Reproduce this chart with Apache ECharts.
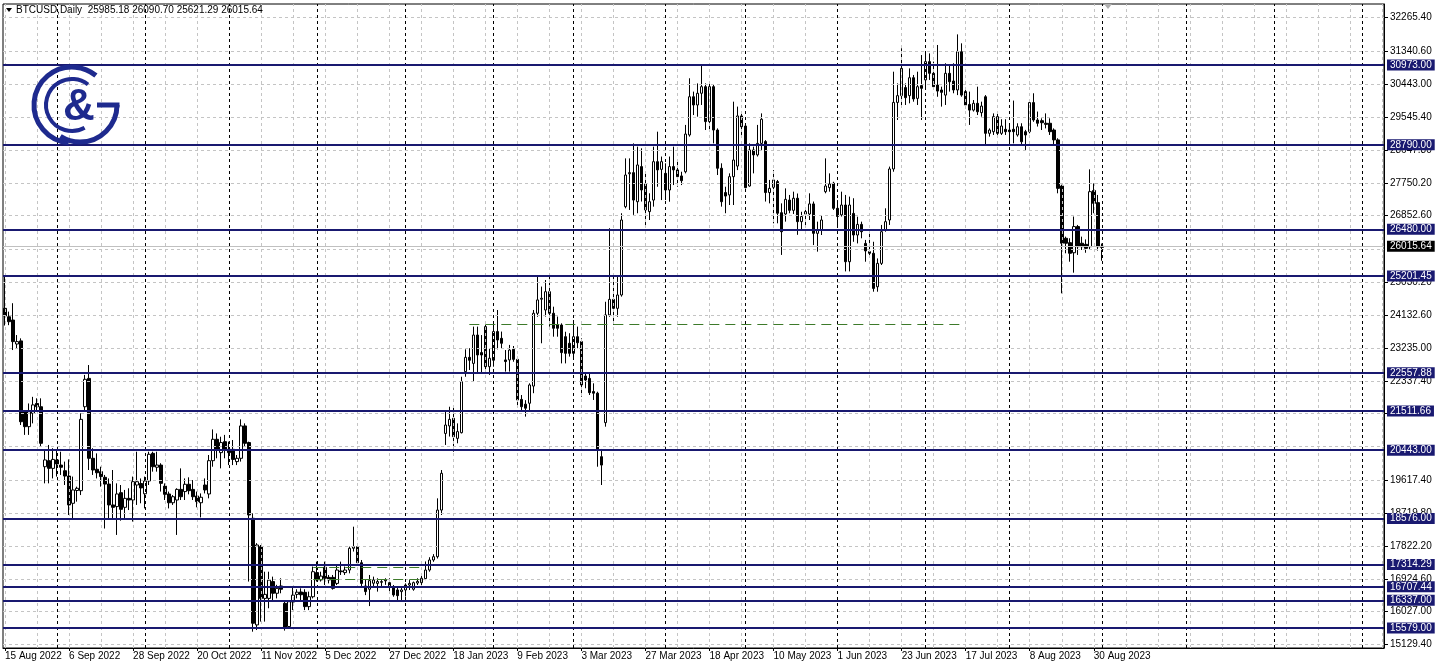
<!DOCTYPE html>
<html><head><meta charset="utf-8">
<script src="https://cdn.jsdelivr.net/npm/echarts@6/dist/echarts.min.js"></script>
<style>html,body{margin:0;padding:0;background:#fff}#c{width:1436px;height:668px}</style>
</head><body><div id="c"></div>
<script>
// ---- data (weekday daily bars starting 15 Aug 2022) ----
const opens = [24320,24090,24000,23345,23430,21495,21085,21450,21720,21630,19990,20155,19945,20175,20035,19880,19735,18990,19340,19335,
21630,22405,20220,19920,19855,19700,19515,18945,18900,19280,18880,19125,19080,19490,19530,19250,19600,20355,19975,20035,
19460,19245,19005,19080,19370,19310,19510,19370,19190,19005,19490,19245,20155,20740,20375,20675,20465,20465,20130,20220,
21105,20650,18580,15665,17805,16390,16390,16850,16530,16730,16255,15620,16290,16500,16565,16555,16165,16435,17095,16895,
17240,16965,16965,16800,17140,17095,17165,17760,17805,17365,16730,16640,16805,16800,16830,16870,16820,16690,16620,16575,
16620,16755,16640,16810,16820,16930,17165,17440,17530,18805,20900,21105,21315,20765,20920,22590,22980,22815,23590,23110,
23820,22725,22900,23685,23500,22910,22910,23200,22925,21830,21700,21725,22195,24185,24570,24275,24775,24185,23865,23865,
23545,23365,23090,23545,23410,22470,22405,22045,22000,20265,21195,24140,24565,24320,24685,27100,28000,28030,27235,28195,
27720,26965,27280,28330,28120,28010,27555,28195,28105,27940,28055,29060,30105,29880,30200,30380,29425,30380,29195,28150,
27485,27420,27920,28210,29580,29305,27665,28650,28515,28830,28880,27485,27630,27785,26935,26900,27280,27000,27330,26690,
26900,26900,27175,26370,26460,27510,27620,27740,27055,26875,27145,25595,26915,26325,26615,26095,25870,25825,24910,25550,
26460,26735,28130,29950,30135,30355,30135,30625,30060,30410,30565,31065,30745,30425,30290,30150,30745,30535,30290,31335,
30245,29895,29740,29925,29670,30105,29105,29150,29560,29105,29215,29195,29215,29060,29285,29150,29150,29945,29470,29450,
29380,29380,29195,28925,27665,26235,26115,25840,26555,26100,26070,26005,27540,27210,25985.18];
const highs = [25210,24230,24460,23590,23500,21540,21720,21900,21860,21860,20450,20585,20495,20450,20400,20130,20190,19720,19445,21450,
22500,22770,20495,20355,19990,19765,19670,19900,19535,19490,19355,19400,19720,20400,19670,19720,20400,20400,20400,20085,
19535,19310,19215,19400,19945,19670,19700,19625,19310,19260,19670,20310,21010,20900,20810,20860,20675,20720,20310,21285,
21175,20675,18715,17900,17850,17120,17120,16985,16760,16940,16300,16330,16710,16640,16665,16640,16575,17260,17395,17120,
17395,17030,17030,17305,17395,17260,17805,18350,17895,17440,16895,17030,16985,16940,16890,16940,16940,16755,16710,16710,
16800,16890,16850,16940,17030,17400,17515,17600,19125,19900,21495,21630,21630,21175,22450,23200,23230,23820,23820,23590,
23865,23230,23865,24275,23685,23180,23320,23290,22995,21950,21810,22270,24275,25230,24915,25095,25275,24365,24095,23910,
23680,23640,24000,23820,23500,22560,22545,22270,22040,20475,24500,26510,25185,25185,26920,28420,28420,28830,28740,28695,
28010,27465,28740,29150,28470,28285,28470,28740,28375,28055,29335,30610,30245,30470,30975,30470,30470,30430,29240,28285,
27645,28010,29970,29835,29650,29380,28830,28740,29335,29650,28920,27830,28100,27830,27190,27600,27420,27510,27460,26960,
27030,27465,27240,26690,26870,28420,28010,27780,27280,27510,27420,27375,27330,26825,26690,26190,26415,26140,25685,26600,
27055,28195,30790,30470,31430,30470,30880,30700,30790,31245,31335,31290,31065,31520,30380,31020,30990,31020,31810,31565,
30335,30245,30015,30380,29970,30150,29240,29650,29650,29490,29490,29380,30000,29380,29380,29200,29970,30200,29700,29515,
29650,29515,29240,28970,27700,26280,26235,26830,26600,26280,26205,28120,27735,27420,26090.70];
const lows = [23850,23860,23180,23230,21130,20860,20860,21175,21540,20540,19535,19535,19670,19720,19765,19490,18670,18535,19035,19215,
21540,19900,19765,19670,19445,18300,18580,18580,18125,18515,18580,18805,18490,18945,18990,18850,19490,19855,19855,19310,
19080,18850,18945,18125,19080,19080,19235,19080,18880,18605,19260,19125,19990,20220,19945,20220,20035,20035,20035,20130,
20540,16850,15480,15525,15755,15755,16120,16345,16390,16530,15510,15590,16070,16390,16345,16070,16070,16390,16850,16850,
16755,16800,16630,16755,17030,17030,17075,17670,17305,16710,16480,16180,16690,16575,16690,16760,16575,16435,16345,16300,
16440,16620,16600,16755,16690,16890,17120,17390,17480,18670,20585,20815,20400,20630,20900,22450,22635,22315,22545,22545,
22545,22500,22725,23200,23230,22590,22590,22860,21630,21495,21360,21495,22000,24090,23365,24095,23820,23545,23545,22815,
22815,23000,22950,23230,21905,22135,21950,21815,19990,19490,21085,24090,23865,24090,24640,27055,27010,26875,26920,27240,
26555,26735,27100,27645,27280,27280,27235,27690,27645,27690,28010,29015,29605,29560,29880,29195,29195,28830,27965,27100,
26920,27145,27145,28100,29060,27600,27645,28010,28470,28650,27240,27190,26645,26645,25780,26690,26920,26900,26330,26460,
26555,26735,26050,25870,26325,27465,27510,27010,26555,26830,25330,25330,26140,26095,26235,25595,25775,24775,24775,25505,
26415,26600,28055,29470,29835,29880,29925,29970,29880,29470,30335,30565,30290,30105,29835,29880,30245,30200,30150,30105,
29790,29335,29700,29605,29560,28785,29015,29060,29060,29060,29060,28785,28830,29015,28785,28650,29105,29420,29290,29195,
29240,29060,28785,27465,24730,25825,25595,25295,25780,25915,25840,25915,26920,25900,25621.29];
const closes = [24110,23955,23410,23410,21220,21085,21495,21680,21630,20630,20175,19945,20190,20065,19975,19735,18945,19355,19400,21285,
22380,20220,19900,19825,19720,19515,18945,18880,19245,18825,19125,19080,19580,19580,19410,19600,20330,19990,20035,19535,
19235,19005,19170,19370,19170,19510,19335,19170,19035,19155,19355,20155,20740,20445,20650,20445,20375,20190,20220,21105,
20630,18670,15710,17850,16390,16500,16890,16530,16665,16640,15570,16300,16480,16560,16490,16165,16435,17120,16895,17000,
16940,16895,16665,17165,17120,17165,17760,17800,17365,16800,16575,16875,16895,16850,16850,16890,16690,16485,16465,16620,
16755,16800,16820,16855,16940,17165,17440,17530,18805,19810,21130,21285,20810,20950,22315,22980,22900,23590,23045,23045,
22725,22955,23685,23455,23365,22865,23180,22925,21815,21630,21590,22225,24185,24550,24595,24775,24185,23775,23775,23110,
23090,23090,23545,23380,22225,22360,22015,22000,20445,20035,24140,24565,24320,24685,26735,27965,28030,27280,28240,27555,
27010,27235,28330,28105,28330,27555,28195,28105,27920,27810,29085,30105,29880,30200,30380,29425,30380,29195,28150,27235,
27390,27920,28375,29580,29285,27620,28650,28515,28830,29490,27485,27600,27830,26920,26415,27300,27000,27330,26690,26830,
26965,27175,26370,26460,26735,27665,27720,27055,26830,27145,25595,27145,26325,26615,26415,25890,25825,24865,25550,26415,
26690,28130,29950,30135,30880,30080,30625,30045,30380,30335,31065,30745,30380,30260,30225,30745,30515,30290,31335,30150,
29880,29740,29925,29695,29850,29105,29195,29560,29105,29305,29150,29150,29150,29285,28875,29060,29945,29470,29380,29395,
29350,29150,28925,27600,26100,26100,25825,26555,26005,26005,25960,27510,27190,26005,26015.64];
const levelPrices = [30973.00,28790.00,26480.00,25201.45,22557.88,21511.66,20443.00,18576.00,17314.29,16707.44,16337.00,15579.00];
const priceTickLabels = [32265.40,31340.60,30443.00,29545.40,28647.80,27750.20,26852.60,25030.20,24132.60,23235.00,22337.40,21439.80,19617.40,18719.80,17822.20,16924.60,16027.00,15129.40];
const priceGridValues = [32265.40,31340.60,30443.00,29545.40,28647.80,27750.20,26852.60,25941.40,25030.20,24132.60,23235.00,22337.40,21439.80,20542.20,19617.40,18719.80,17822.20,16924.60,16027.00,15129.40];
const lastPrice = 26015.64;
const headerText = 'BTCUSD,Daily  25985.18 26090.70 25621.29 26015.64';
const greenLevels = [[116, 239, 23890], [77, 104, 17235], [77, 104, 16920]];
const startDate = Date.UTC(2022, 7, 15);
const totalSlots = 345;

// ---- build categories (weekdays) ----
const MONTHS = ['Jan','Feb','Mar','Apr','May','Jun','Jul','Aug','Sep','Oct','Nov','Dec'];
const categories = [];
const monthStarts = [];
{
  let t = startDate, prevMonth = -1;
  while (categories.length < totalSlots) {
    const d = new Date(t);
    const wd = d.getUTCDay();
    if (wd !== 0 && wd !== 6) {
      if (d.getUTCMonth() !== prevMonth) { if (prevMonth !== -1) monthStarts.push(categories.length); prevMonth = d.getUTCMonth(); }
      categories.push(d.getUTCDate() + ' ' + MONTHS[d.getUTCMonth()] + ' ' + d.getUTCFullYear());
    }
    t += 86400000;
  }
}
const lastBar = opens.length - 1;
const candleData = opens.map((o, i) => [o, closes[i], lows[i], highs[i]]);
const nullData = categories.map(() => null);
const FONT = 'Liberation Sans';
const NAVY = '#191970';

const gridLines = [];
priceGridValues.forEach(v => gridLines.push({yAxis: v, lineStyle: {color: '#c4c4c4', type: [3, 3], width: 1}}));
for (let i = 0; i < totalSlots; i += 8) gridLines.push({xAxis: i, lineStyle: {color: '#c4c4c4', type: [3, 3], width: 1}});
monthStarts.forEach(i => gridLines.push({xAxis: i, lineStyle: {color: '#000', type: [3, 3], width: 1}}));

const levelLines = levelPrices.map(v => ({yAxis: v}));
const greenLines = greenLevels.map(g => [{coord: [g[0], g[2]]}, {coord: [g[1], g[2]]}]);

const chart = echarts.init(document.getElementById('c'), null, {renderer: 'canvas'});
const logoColor = '#1e2a8e';
const rad = a => a * Math.PI / 180;
chart.setOption({
  animation: false,
  backgroundColor: '#fff',
  textStyle: {fontFamily: FONT},
  grid: {left: 3, right: 52, top: 4, bottom: 20, show: true, borderColor: '#000', borderWidth: 1, backgroundColor: '#fff'},
  xAxis: {
    type: 'category', data: categories, boundaryGap: true,
    axisLine: {show: true, lineStyle: {color: '#000'}},
    axisTick: {show: true, alignWithLabel: true, length: 3, interval: (i) => i % 16 === 0 && i <= lastBar, lineStyle: {color: '#000'}},
    axisLabel: {interval: (i) => i % 16 === 0 && i <= lastBar, align: 'left', fontSize: 10, color: '#000', margin: 3, fontFamily: FONT},
    splitLine: {show: false}
  },
  yAxis: {
    type: 'value', position: 'right', min: 15033.7, max: 32640.6, scale: true,
    axisLine: {show: true, lineStyle: {color: '#000'}},
    axisTick: {show: true, length: 4, customValues: priceTickLabels, lineStyle: {color: '#000'}},
    axisLabel: {customValues: priceTickLabels, formatter: v => v.toFixed(2), fontSize: 10, color: '#000', margin: 6, fontFamily: FONT},
    splitLine: {show: false}
  },
  series: [
    {
      type: 'line', data: nullData, z: 1, silent: true, symbol: 'none',
      markLine: {silent: true, symbol: 'none', animation: false, label: {show: false}, data: gridLines}
    },
    {
      type: 'line', data: nullData, z: 2, silent: true, symbol: 'none',
      markLine: {silent: true, symbol: 'none', animation: false, label: {show: false},
        lineStyle: {color: '#3d7a2a', type: [10, 6], width: 1}, data: greenLines}
    },
    {
      type: 'candlestick', data: candleData, z: 4, barWidth: 3,
      itemStyle: {color: '#ffffff', color0: '#000000', borderColor: '#000000', borderColor0: '#000000', borderWidth: 1}
    },
    {
      type: 'line', data: nullData, z: 5, silent: true, symbol: 'none',
      markLine: {silent: true, symbol: 'none', animation: false,
        lineStyle: {color: '#c0c0c0', type: 'solid', width: 1},
        label: {show: true, position: 'end', distance: 3, formatter: p => p.value.toFixed(2), color: '#fff', backgroundColor: '#000', padding: [1, 3, 0, 3], fontSize: 10, fontFamily: FONT},
        data: [{yAxis: lastPrice}]}
    },
    {
      type: 'line', data: nullData, z: 6, silent: true, symbol: 'none',
      markLine: {silent: true, symbol: 'none', animation: false,
        lineStyle: {color: NAVY, type: 'solid', width: 2},
        label: {show: true, position: 'end', distance: 3, formatter: p => p.value.toFixed(2), color: '#fff', backgroundColor: NAVY, padding: [1, 3, 0, 3], fontSize: 10, fontFamily: FONT},
        data: levelLines}
    }
  ],
  graphic: [
    {type: 'polygon', shape: {points: [[6, 8], [12, 8], [9, 12]]}, style: {fill: '#000'}, z: 10},
    {type: 'text', left: 16, top: 5, z: 10, style: {text: headerText, font: '10px "Liberation Sans"', fill: '#000'}},
    {type: 'polygon', shape: {points: [[1104, 4], [1112, 4], [1108, 9]]}, style: {fill: '#b0b0b0'}, z: 10},
    {type: 'arc', z: 10, shape: {cx: 72, cy: 105, r: 38, startAngle: rad(95), endAngle: rad(309), clockwise: true}, style: {stroke: logoColor, lineWidth: 5, fill: null}},
    {type: 'arc', z: 10, shape: {cx: 72, cy: 105, r: 26, startAngle: rad(61), endAngle: rad(308), clockwise: true}, style: {stroke: logoColor, lineWidth: 4, fill: null}},
    {type: 'arc', z: 10, shape: {cx: 80, cy: 105, r: 37, startAngle: rad(0), endAngle: rad(122), clockwise: true}, style: {stroke: logoColor, lineWidth: 5, fill: null}},
    {type: 'line', z: 10, shape: {x1: 97, y1: 105, x2: 119.5, y2: 105}, style: {stroke: logoColor, lineWidth: 5}},
    {type: 'text', z: 10, x: 79, y: 108, style: {text: '&', font: 'bold 44px "Liberation Sans"', fill: logoColor, align: 'center', verticalAlign: 'middle'}}
  ]
});
</script>
</body></html>
